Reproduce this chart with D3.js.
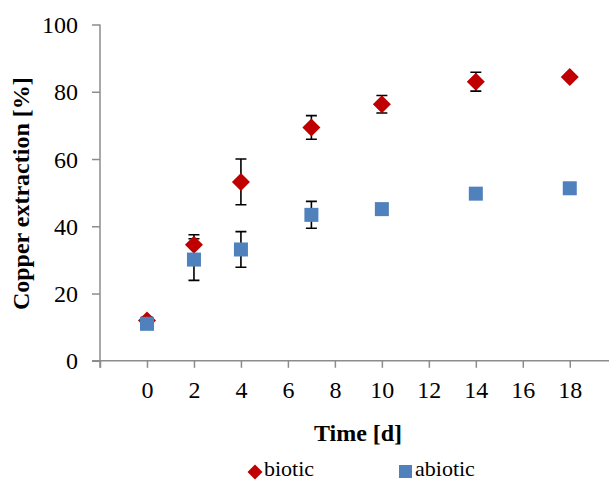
<!DOCTYPE html>
<html>
<head>
<meta charset="utf-8">
<script src="https://cdn.jsdelivr.net/npm/d3@7"></script>
<style>
  html, body { margin: 0; padding: 0; background: #fff; }
  svg text { font-family: "Liberation Serif", "Times New Roman", serif !important; fill: #000; }
</style>
</head>
<body>
<svg id="chart" width="609" height="481"></svg>
<script>
// Sampling days
const days = [0, 2, 4, 7, 10, 14, 18];
// Copper extraction (%) and standard deviation, biotic leaching
const bioticMean = [12.0, 34.5, 53.2, 69.4, 76.3, 83.0, 84.4];
const bioticErr  = [1.0, 3.0, 6.8, 3.5, 2.6, 2.8, 0];
// Copper extraction (%) and standard deviation, abiotic control
const abioticMean = [11.0, 30.1, 33.1, 43.4, 45.1, 49.7, 51.3];
const abioticErr  = [0.8, 6.2, 5.3, 4.0, 1.0, 0, 0];
// Axis ticks
const xTicks = [-2, 0, 2, 4, 6, 8, 10, 12, 14, 16, 18];
const yTicks = [0, 20, 40, 60, 80, 100];

const serif = "'Liberation Serif', 'Times New Roman', serif";
const svg = d3.select("#chart");
const x = d3.scaleLinear().domain([-2, 19.67]).range([100, 609]);
const y = d3.scaleLinear().domain([0, 100]).range([360.8, 24.5]);
const axisColor = "#8c8c8c";

// Y axis
const yAxis = svg.append("g").attr("transform", "translate(100,0)")
  .call(d3.axisLeft(y).tickValues(yTicks).tickSize(8).tickPadding(14).tickFormat(d3.format("d")));
yAxis.select(".domain").attr("d", `M0,${y(100)}H0V${y(0) + 7}`);
// X axis
const xAxis = svg.append("g").attr("transform", `translate(0,${y(0)})`)
  .call(d3.axisBottom(x).tickValues(xTicks).tickSize(7).tickPadding(13)
    .tickFormat(d => d < 0 ? "" : d));
xAxis.select(".domain").attr("d", `M92,0H609`);

[yAxis, xAxis].forEach(g => {
  g.attr("font-family", serif).attr("font-size", 24);
  g.selectAll(".domain").attr("stroke", axisColor).attr("stroke-width", 1.5);
  g.selectAll(".tick line").attr("stroke", axisColor).attr("stroke-width", 1.5);
  g.selectAll(".tick text").style("font-family", serif).style("font-size", "24px");
});
yAxis.selectAll(".tick text").attr("dy", "0.34em");
xAxis.selectAll(".tick text").attr("dy", "0.72em");

// Axis titles
svg.append("text")
  .attr("transform", `translate(29,${(y(0) + y(100)) / 2 + 1}) rotate(-90)`)
  .attr("text-anchor", "middle").style("font-size", "24px").attr("font-weight", "bold")
  .text("Copper extraction [%]");
svg.append("text")
  .attr("x", 358).attr("y", 441)
  .attr("text-anchor", "middle").style("font-size", "24px").attr("font-weight", "bold")
  .text("Time [d]");

const bio = days.map((d, i) => ({ t: d, v: bioticMean[i], e: bioticErr[i] }));
const abio = days.map((d, i) => ({ t: d, v: abioticMean[i], e: abioticErr[i] }));

const diamond = "M0,-9L9,0L0,9L-9,0Z";

function errorBars(data) {
  const g = svg.append("g").attr("stroke", "#000").attr("stroke-width", 1.6).attr("fill", "none");
  data.filter(d => d.e > 0).forEach(d => {
    const cx = x(d.t), y1 = y(d.v + d.e), y2 = y(d.v - d.e);
    g.append("path").attr("d", `M${cx},${y1}V${y2}M${cx - 5.5},${y1}H${cx + 5.5}M${cx - 5.5},${y2}H${cx + 5.5}`);
  });
}

// Error bars sit beneath both marker series
errorBars(bio);
errorBars(abio);

// Biotic series
svg.append("g").selectAll("path").data(bio).join("path")
  .attr("d", diamond)
  .attr("transform", d => `translate(${x(d.t)},${y(d.v)})`)
  .attr("fill", "#c00000");

// Abiotic series
svg.append("g").selectAll("rect").data(abio).join("rect")
  .attr("x", d => x(d.t) - 7).attr("y", d => y(d.v) - 7)
  .attr("width", 14).attr("height", 14)
  .attr("fill", "#4f81bd");

// Legend
const legend = svg.append("g");
legend.append("path").attr("d", "M0,-7.5L7.5,0L0,7.5L-7.5,0Z")
  .attr("transform", "translate(255,472)").attr("fill", "#c00000");
legend.append("text").attr("x", 264).attr("y", 476).style("font-size", "22px").text("biotic");
legend.append("rect").attr("x", 399).attr("y", 465).attr("width", 13).attr("height", 13).attr("fill", "#4f81bd");
legend.append("text").attr("x", 415).attr("y", 476).style("font-size", "22px").text("abiotic");
</script>
</body>
</html>
